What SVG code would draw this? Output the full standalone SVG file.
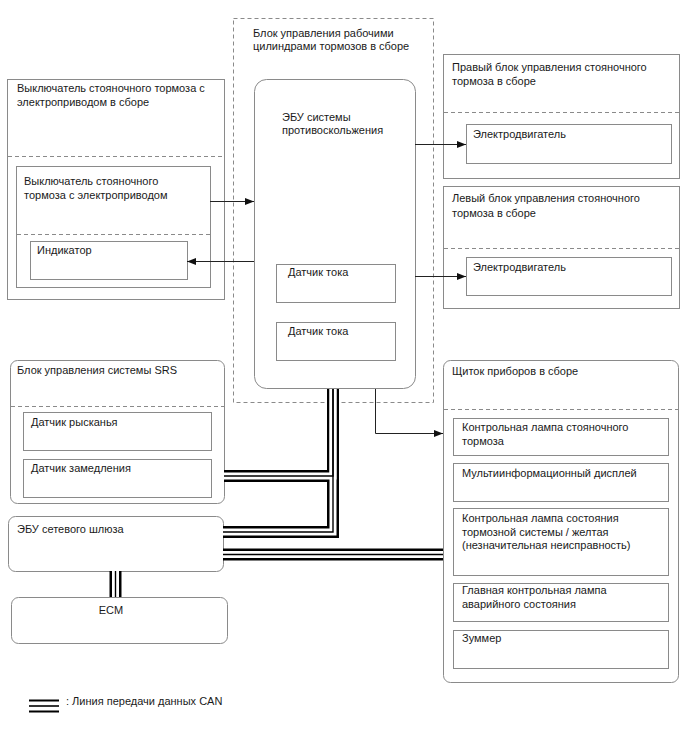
<svg xmlns="http://www.w3.org/2000/svg" width="688" height="755" viewBox="0 0 688 755">
<defs>
<style>
text{font-family:"Liberation Sans",Arial,sans-serif;font-size:11px;fill:#1a1a1a}
.box{fill:none;stroke:#8a8a8a;stroke-width:1}
.dash{fill:none;stroke:#8a8a8a;stroke-width:1;stroke-dasharray:4,3}
.conn{fill:none;stroke:#222;stroke-width:1}
.canO{fill:none;stroke:#000;stroke-width:12}
.canW{fill:none;stroke:#fff;stroke-width:7}
.canC{fill:none;stroke:#000;stroke-width:1.4}
</style>
<marker id="arr" markerWidth="9" markerHeight="7" refX="9" refY="3.5" orient="auto" markerUnits="userSpaceOnUse">
<path d="M0,0 L9,3.5 L0,7 Z" fill="#111"/>
</marker>
</defs>
<rect width="688" height="755" fill="#fff"/>

<g id="epb-switch-assy">
<rect class="box" x="7.5" y="79.5" width="217" height="220"/>
<line class="dash" x1="8" y1="156.5" x2="224" y2="156.5"/>
<text x="17" y="92">Выключатель стояночного тормоза с</text>
<text x="17" y="106">электроприводом в сборе</text>
</g>
<g id="epb-switch">
<rect class="box" x="16.5" y="166.5" width="194" height="121"/>
<line class="dash" x1="17" y1="234.5" x2="210" y2="234.5"/>
<text x="24" y="185">Выключатель стояночного</text>
<text x="24" y="199">тормоза с электроприводом</text>
</g>
<g id="indicator">
<rect class="box" x="30.5" y="241.5" width="157" height="38"/>
<text x="37" y="254">Индикатор</text>
</g>

<g id="brake-actuator-assy">
<rect class="dash" x="233.5" y="18.5" width="200" height="384"/>
<text x="253" y="37">Блок управления рабочими</text>
<text x="253" y="50">цилиндрами тормозов в сборе</text>
</g>
<g id="abs-ecu">
<rect class="box" x="254.5" y="79.5" width="161" height="309" rx="12"/>
<text x="282" y="121">ЭБУ системы</text>
<text x="282" y="134">противоскольжения</text>
</g>
<g id="current-sensor-1">
<rect class="box" x="276.5" y="264.5" width="119" height="38"/>
<text x="288" y="276">Датчик тока</text>
</g>
<g id="current-sensor-2">
<rect class="box" x="276.5" y="322.5" width="119" height="38"/>
<text x="288" y="335">Датчик тока</text>
</g>

<g id="right-epb-assy">
<rect class="box" x="443.5" y="54.5" width="236" height="124"/>
<line class="dash" x1="444" y1="112.5" x2="679" y2="112.5"/>
<text x="452" y="71">Правый блок управления стояночного</text>
<text x="452" y="85">тормоза в сборе</text>
</g>
<g id="right-motor">
<rect class="box" x="466.5" y="124.5" width="205" height="39"/>
<text x="473" y="138">Электродвигатель</text>
</g>
<g id="left-epb-assy">
<rect class="box" x="443.5" y="186.5" width="236" height="122"/>
<line class="dash" x1="444" y1="248.5" x2="679" y2="248.5"/>
<text x="452" y="202">Левый блок управления стояночного</text>
<text x="452" y="217">тормоза в сборе</text>
</g>
<g id="left-motor">
<rect class="box" x="466.5" y="257.5" width="205" height="38"/>
<text x="473" y="271">Электродвигатель</text>
</g>

<g id="srs-ecu">
<rect class="box" x="10.5" y="360.5" width="214" height="143" rx="7"/>
<line class="dash" x1="11" y1="406.5" x2="224" y2="406.5"/>
<text x="17" y="374">Блок управления системы SRS</text>
</g>
<g id="yaw-sensor">
<rect class="box" x="23.5" y="412.5" width="188" height="38"/>
<text x="31" y="426">Датчик рысканья</text>
</g>
<g id="decel-sensor">
<rect class="box" x="23.5" y="459.5" width="188" height="38"/>
<text x="31" y="472">Датчик замедления</text>
</g>
<g id="gateway-ecu">
<rect class="box" x="8.5" y="516.5" width="215" height="55" rx="7"/>
<text x="17" y="533">ЭБУ сетевого шлюза</text>
</g>
<g id="ecm">
<rect class="box" x="11.5" y="597.5" width="216" height="46" rx="7"/>
<text x="111" y="614" text-anchor="middle">ECM</text>
</g>

<g id="combination-meter">
<rect class="box" x="443.5" y="360.5" width="235" height="322" rx="7"/>
<line class="dash" x1="444" y1="409.5" x2="678" y2="409.5"/>
<text x="452" y="375">Щиток приборов в сборе</text>
</g>
<g id="parking-brake-lamp">
<rect class="box" x="453.5" y="418.5" width="215" height="37"/>
<text x="462" y="431">Контрольная лампа стояночного</text>
<text x="462" y="445">тормоза</text>
</g>
<g id="multi-display">
<rect class="box" x="453.5" y="463.5" width="215" height="38"/>
<text x="462" y="477">Мультиинформационный дисплей</text>
</g>
<g id="brake-system-lamp">
<rect class="box" x="453.5" y="508.5" width="215" height="67"/>
<text x="462" y="522">Контрольная лампа состояния</text>
<text x="462" y="536">тормозной системы / желтая</text>
<text x="462" y="549">(незначительная неисправность)</text>
</g>
<g id="master-warning">
<rect class="box" x="453.5" y="583.5" width="215" height="38"/>
<text x="462" y="594">Главная контрольная лампа</text>
<text x="462" y="608">аварийного состояния</text>
</g>
<g id="buzzer">
<rect class="box" x="453.5" y="630.5" width="215" height="38"/>
<text x="462" y="642">Зуммер</text>
</g>

<g id="connectors">
<line class="conn" x1="210" y1="201.5" x2="254" y2="201.5" marker-end="url(#arr)"/>
<line class="conn" x1="254" y1="261.5" x2="187" y2="261.5" marker-end="url(#arr)"/>
<line class="conn" x1="415" y1="144.5" x2="466" y2="144.5" marker-end="url(#arr)"/>
<line class="conn" x1="415" y1="276.5" x2="466" y2="276.5" marker-end="url(#arr)"/>
<path class="conn" d="M375.5,389 V433.5 H443" marker-end="url(#arr)"/>
<g id="can-bus">
<path class="canO" d="M333,389 V476 H224"/>
<path class="canO" d="M333,389 V532 H223"/>
<path class="canO" d="M223,554.5 H443"/>
<path class="canO" d="M115.5,571 V597"/>
<path class="canW" d="M333,389 V476 H224"/>
<path class="canW" d="M333,389 V532 H223"/>
<path class="canW" d="M223,554.5 H443"/>
<path class="canW" d="M115.5,571 V597"/>
<path class="canC" d="M333,389 V476 H224"/>
<path class="canC" d="M333,389 V532 H223"/>
<path class="canC" d="M223,554.5 H443"/>
<path class="canC" d="M115.5,571 V597"/>
</g>
</g>

<g id="legend">
<line x1="29" y1="706" x2="59" y2="706" stroke="#000" stroke-width="13"/>
<line x1="29" y1="706" x2="59" y2="706" stroke="#fff" stroke-width="9"/>
<line x1="29" y1="706" x2="59" y2="706" stroke="#000" stroke-width="1.6"/>
<text x="66" y="705">: Линия передачи данных CAN</text>
</g>
</svg>
